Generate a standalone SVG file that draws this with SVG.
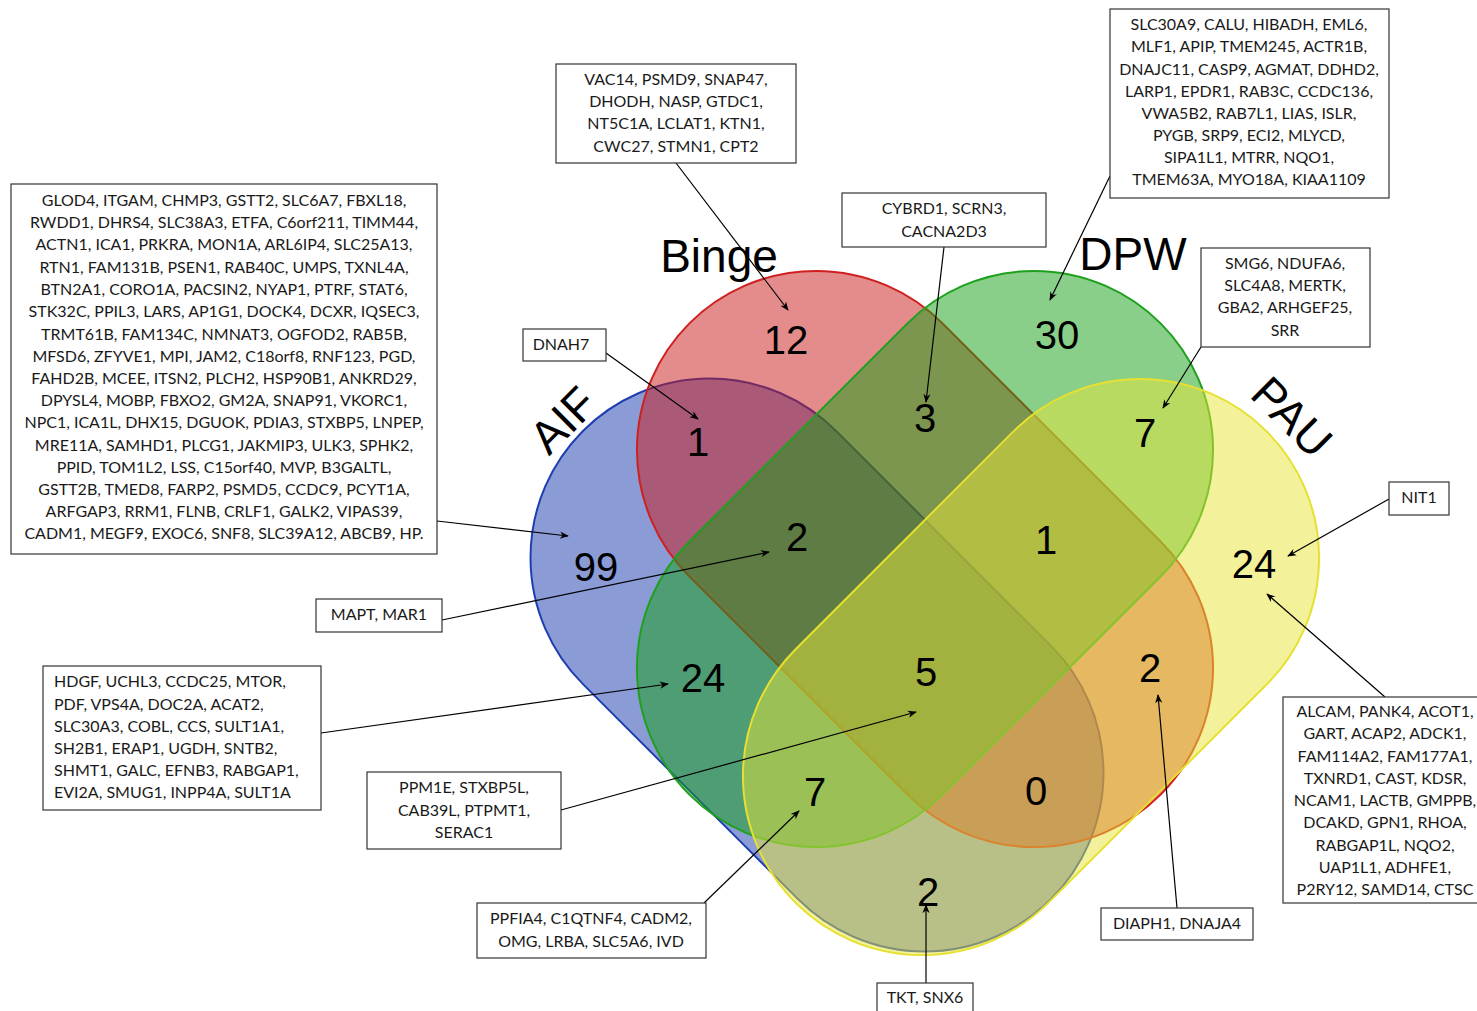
<svg xmlns="http://www.w3.org/2000/svg" width="1477" height="1011" viewBox="0 0 1477 1011">
<defs>
<style>
.box{fill:#fff;stroke:#333;stroke-width:1.2}
.bt{font-family:Lato,"Open Sans",sans-serif;font-size:16px;fill:#1a1a1a;text-anchor:middle}
.btl{font-family:Lato,"Open Sans",sans-serif;font-size:16px;fill:#1a1a1a;text-anchor:start}
.num{font-family:"Liberation Sans",Arial,sans-serif;font-size:40px;fill:#000;text-anchor:middle}
.set{font-family:"Liberation Sans",Arial,sans-serif;font-size:46px;fill:#000;text-anchor:middle}
.sh{fill-opacity:0.5;stroke-width:2}
.con{stroke:#000;stroke-width:1.2;fill:none;marker-end:url(#ah)}
</style>
<marker id="ah" viewBox="0 0 10 10" refX="9" refY="5" markerWidth="9" markerHeight="9" markerUnits="userSpaceOnUse" orient="auto">
<path d="M0,1 L10,5 L0,9 L3,5 Z" fill="#000"/>
</marker>
</defs>
<rect width="1477" height="1011" fill="#fff"/>
<g id="venn">
<rect id="set-AIF" class="sh" x="-331" y="-179" width="662" height="358" rx="179" ry="179" fill="#1737ad" stroke="#1f3fb0" transform="translate(817 665) rotate(45)"/>
<rect id="set-Binge" class="sh" x="-333.2" y="-179" width="666.4" height="358" rx="179" ry="179" fill="#c91717" stroke="#cf2020" transform="translate(925 559) rotate(45)"/>
<rect id="set-DPW" class="sh" x="-333.2" y="-179" width="666.4" height="358" rx="179" ry="179" fill="#139f13" stroke="#1ea01e" transform="translate(925 559) rotate(-45)"/>
<rect id="set-PAU" class="sh" x="-333.2" y="-179" width="666.4" height="358" rx="179" ry="179" fill="#e7e537" stroke="#e6e030" transform="translate(1031 667) rotate(-45)"/>
</g>
<g id="set-labels">
<text class="set" transform="translate(563 420) rotate(-45)" y="16">AIF</text>
<text class="set" x="719" y="272">Binge</text>
<text class="set" x="1133" y="270">DPW</text>
<text class="set" transform="translate(1292 417) rotate(45)" y="16">PAU</text>
</g>
<g id="counts">
<text class="num" x="786" y="354">12</text>
<text class="num" x="698" y="456">1</text>
<text class="num" x="925" y="432">3</text>
<text class="num" x="1057" y="349">30</text>
<text class="num" x="1145" y="447">7</text>
<text class="num" x="797" y="551">2</text>
<text class="num" x="1046" y="554">1</text>
<text class="num" x="596" y="581">99</text>
<text class="num" x="1254" y="578">24</text>
<text class="num" x="703" y="692">24</text>
<text class="num" x="926" y="686">5</text>
<text class="num" x="1150" y="682">2</text>
<text class="num" x="815" y="806">7</text>
<text class="num" x="1036" y="805">0</text>
<text class="num" x="928" y="906">2</text>
</g>
<g id="connectors">
<line class="con" x1="437" y1="521" x2="568" y2="536"/>
<line class="con" x1="442" y1="620" x2="769" y2="552"/>
<line class="con" x1="321" y1="733" x2="668" y2="684"/>
<line class="con" x1="561" y1="810" x2="916" y2="712"/>
<line class="con" x1="704" y1="903" x2="799" y2="811"/>
<line class="con" x1="926" y1="983" x2="926" y2="905"/>
<line class="con" x1="1177" y1="908" x2="1158" y2="695"/>
<line class="con" x1="1385" y1="697" x2="1267" y2="594"/>
<line class="con" x1="1389" y1="499" x2="1288" y2="556"/>
<line class="con" x1="1201" y1="347" x2="1163" y2="408"/>
<line class="con" x1="1110" y1="176" x2="1050" y2="300"/>
<line class="con" x1="944" y1="247" x2="926" y2="402"/>
<line class="con" x1="676" y1="163" x2="788" y2="310"/>
<line class="con" x1="606" y1="353" x2="698" y2="419"/>
</g>
<g id="box-AIF">
<rect class="box" x="11" y="184" width="426" height="370"/>
<text class="bt" x="224" y="206">GLOD4, ITGAM, CHMP3, GSTT2, SLC6A7, FBXL18,</text>
<text class="bt" x="224" y="228">RWDD1, DHRS4, SLC38A3, ETFA, C6orf211, TIMM44,</text>
<text class="bt" x="224" y="250">ACTN1, ICA1, PRKRA, MON1A, ARL6IP4, SLC25A13,</text>
<text class="bt" x="224" y="273">RTN1, FAM131B, PSEN1, RAB40C, UMPS, TXNL4A,</text>
<text class="bt" x="224" y="295">BTN2A1, CORO1A, PACSIN2, NYAP1, PTRF, STAT6,</text>
<text class="bt" x="224" y="317">STK32C, PPIL3, LARS, AP1G1, DOCK4, DCXR, IQSEC3,</text>
<text class="bt" x="224" y="340">TRMT61B, FAM134C, NMNAT3, OGFOD2, RAB5B,</text>
<text class="bt" x="224" y="362">MFSD6, ZFYVE1, MPI, JAM2, C18orf8, RNF123, PGD,</text>
<text class="bt" x="224" y="384">FAHD2B, MCEE, ITSN2, PLCH2, HSP90B1, ANKRD29,</text>
<text class="bt" x="224" y="406">DPYSL4, MOBP, FBXO2, GM2A, SNAP91, VKORC1,</text>
<text class="bt" x="224" y="428">NPC1, ICA1L, DHX15, DGUOK, PDIA3, STXBP5, LNPEP,</text>
<text class="bt" x="224" y="451">MRE11A, SAMHD1, PLCG1, JAKMIP3, ULK3, SPHK2,</text>
<text class="bt" x="224" y="473">PPID, TOM1L2, LSS, C15orf40, MVP, B3GALTL,</text>
<text class="bt" x="224" y="495">GSTT2B, TMED8, FARP2, PSMD5, CCDC9, PCYT1A,</text>
<text class="bt" x="224" y="517">ARFGAP3, RRM1, FLNB, CRLF1, GALK2, VIPAS39,</text>
<text class="bt" x="224" y="539">CADM1, MEGF9, EXOC6, SNF8, SLC39A12, ABCB9, HP.</text>
</g>
<g id="box-Binge">
<rect class="box" x="556" y="64" width="240" height="99"/>
<text class="bt" x="676" y="85">VAC14, PSMD9, SNAP47,</text>
<text class="bt" x="676" y="107">DHODH, NASP, GTDC1,</text>
<text class="bt" x="676" y="129">NT5C1A, LCLAT1, KTN1,</text>
<text class="bt" x="676" y="152">CWC27, STMN1, CPT2</text>
</g>
<g id="box-DPW">
<rect class="box" x="1110" y="9" width="279" height="189"/>
<text class="bt" x="1249" y="30">SLC30A9, CALU, HIBADH, EML6,</text>
<text class="bt" x="1249" y="52">MLF1, APIP, TMEM245, ACTR1B,</text>
<text class="bt" x="1249" y="75">DNAJC11, CASP9, AGMAT, DDHD2,</text>
<text class="bt" x="1249" y="97">LARP1, EPDR1, RAB3C, CCDC136,</text>
<text class="bt" x="1249" y="119">VWA5B2, RAB7L1, LIAS, ISLR,</text>
<text class="bt" x="1249" y="141">PYGB, SRP9, ECI2, MLYCD,</text>
<text class="bt" x="1249" y="163">SIPA1L1, MTRR, NQO1,</text>
<text class="bt" x="1249" y="185">TMEM63A, MYO18A, KIAA1109</text>
</g>
<g id="box-Binge-DPW">
<rect class="box" x="842" y="193" width="204" height="54"/>
<text class="bt" x="944" y="214">CYBRD1, SCRN3,</text>
<text class="bt" x="944" y="237">CACNA2D3</text>
</g>
<g id="box-DPW-PAU">
<rect class="box" x="1201" y="248" width="169" height="99"/>
<text class="bt" x="1285" y="269">SMG6, NDUFA6,</text>
<text class="bt" x="1285" y="291">SLC4A8, MERTK,</text>
<text class="bt" x="1285" y="313">GBA2, ARHGEF25,</text>
<text class="bt" x="1285" y="336">SRR</text>
</g>
<g id="box-AIF-Binge">
<rect class="box" x="523" y="329" width="83" height="32"/>
<text class="bt" x="561" y="350">DNAH7</text>
</g>
<g id="box-PAU-NIT1">
<rect class="box" x="1389" y="482" width="60" height="33"/>
<text class="bt" x="1419" y="503">NIT1</text>
</g>
<g id="box-PAU">
<rect class="box" x="1283" y="697" width="210" height="206"/>
<text class="bt" x="1385" y="717">ALCAM, PANK4, ACOT1,</text>
<text class="bt" x="1385" y="739">GART, ACAP2, ADCK1,</text>
<text class="bt" x="1385" y="762">FAM114A2, FAM177A1,</text>
<text class="bt" x="1385" y="784">TXNRD1, CAST, KDSR,</text>
<text class="bt" x="1385" y="806">NCAM1, LACTB, GMPPB,</text>
<text class="bt" x="1385" y="828">DCAKD, GPN1, RHOA,</text>
<text class="bt" x="1385" y="851">RABGAP1L, NQO2,</text>
<text class="bt" x="1385" y="873">UAP1L1, ADHFE1,</text>
<text class="bt" x="1385" y="895">P2RY12, SAMD14, CTSC</text>
</g>
<g id="box-Binge-PAU">
<rect class="box" x="1101" y="908" width="152" height="32"/>
<text class="bt" x="1177" y="929">DIAPH1, DNAJA4</text>
</g>
<g id="box-AIF-PAU">
<rect class="box" x="877" y="983" width="96" height="40"/>
<text class="bt" x="925" y="1003">TKT, SNX6</text>
</g>
<g id="box-AIF-DPW-PAU">
<rect class="box" x="477" y="903" width="229" height="55"/>
<text class="bt" x="591" y="924">PPFIA4, C1QTNF4, CADM2,</text>
<text class="bt" x="591" y="947">OMG, LRBA, SLC5A6, IVD</text>
</g>
<g id="box-all">
<rect class="box" x="367" y="772" width="194" height="77"/>
<text class="bt" x="464" y="793">PPM1E, STXBP5L,</text>
<text class="bt" x="464" y="816">CAB39L, PTPMT1,</text>
<text class="bt" x="464" y="838">SERAC1</text>
</g>
<g id="box-AIF-DPW">
<rect class="box" x="43" y="666" width="278" height="144"/>
<text class="btl" x="54" y="687">HDGF, UCHL3, CCDC25, MTOR,</text>
<text class="btl" x="54" y="710">PDF, VPS4A, DOC2A, ACAT2,</text>
<text class="btl" x="54" y="732">SLC30A3, COBL, CCS, SULT1A1,</text>
<text class="btl" x="54" y="754">SH2B1, ERAP1, UGDH, SNTB2,</text>
<text class="btl" x="54" y="776">SHMT1, GALC, EFNB3, RABGAP1,</text>
<text class="btl" x="54" y="798">EVI2A, SMUG1, INPP4A, SULT1A</text>
</g>
<g id="box-AIF-Binge-DPW">
<rect class="box" x="316" y="599" width="126" height="33"/>
<text class="bt" x="379" y="620">MAPT, MAR1</text>
</g>
</svg>
